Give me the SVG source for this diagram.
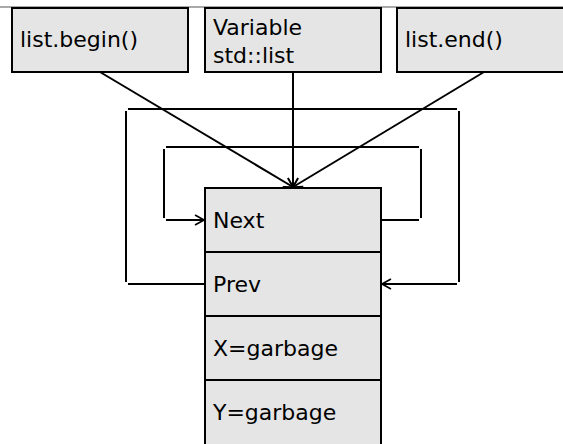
<svg xmlns="http://www.w3.org/2000/svg" width="563" height="444" viewBox="0 0 563 444">
<defs>
<style>
.box{fill:#e5e5e5;stroke:#000;stroke-width:2}
.t{font-family:"DejaVu Sans",sans-serif;font-size:22px;fill:#000}
.c{stroke:#000;stroke-width:2;fill:none}
.a{stroke:#000;stroke-width:1.6;fill:none}
</style>
<marker id="arr" viewBox="0 0 10 12" refX="10" refY="6" markerWidth="10" markerHeight="12" markerUnits="userSpaceOnUse" orient="auto">
<path d="M1,1 L10,6 L1,11" class="a"/>
</marker>
</defs>
<line x1="0" y1="7" x2="563" y2="7" stroke="#8c8c8c" stroke-width="1.5"/>
<g id="begin"><rect class="box" x="12" y="8" width="176" height="64"/><text class="t" x="20" y="47">list.begin()</text></g>
<g id="variable"><rect class="box" x="205" y="8" width="176" height="64"/><text class="t" x="213" y="35">Variable</text><text class="t" x="213" y="63">std::list</text></g>
<g id="end"><rect class="box" x="397" y="8" width="180" height="64"/><text class="t" x="405" y="47">list.end()</text></g>
<g id="next"><rect class="box" x="205" y="188" width="176" height="64"/><text class="t" x="213" y="228">Next</text></g>
<g id="prev"><rect class="box" x="205" y="252" width="176" height="64"/><text class="t" x="213" y="292">Prev</text></g>
<g id="x"><rect class="box" x="205" y="316" width="176" height="64"/><text class="t" x="213" y="356">X=garbage</text></g>
<g id="y"><rect class="box" x="205" y="380" width="176" height="70"/><text class="t" x="213" y="420">Y=garbage</text></g>
<g id="connectors">
<line class="c" x1="100" y1="72" x2="293" y2="187" marker-end="url(#arr)"/>
<line class="c" x1="293" y1="72" x2="293" y2="187" marker-end="url(#arr)"/>
<line class="c" x1="484" y1="72" x2="293" y2="187" marker-end="url(#arr)"/>
<!-- outer loop: Prev left to Prev right -->
<line class="c" x1="205" y1="284" x2="128" y2="284"/>
<line class="c" x1="126" y1="282" x2="126" y2="111"/>
<line class="c" x1="128" y1="109" x2="457" y2="109"/>
<line class="c" x1="459" y1="111" x2="459" y2="282"/>
<line class="c" x1="457" y1="284" x2="382" y2="284" marker-end="url(#arr)"/>
<!-- inner loop: Next right to Next left -->
<line class="c" x1="381" y1="220" x2="419" y2="220"/>
<line class="c" x1="421" y1="218" x2="421" y2="149"/>
<line class="c" x1="419" y1="147" x2="166" y2="147"/>
<line class="c" x1="164" y1="149" x2="164" y2="218"/>
<line class="c" x1="166" y1="220" x2="204" y2="220" marker-end="url(#arr)"/>
</g>
</svg>
